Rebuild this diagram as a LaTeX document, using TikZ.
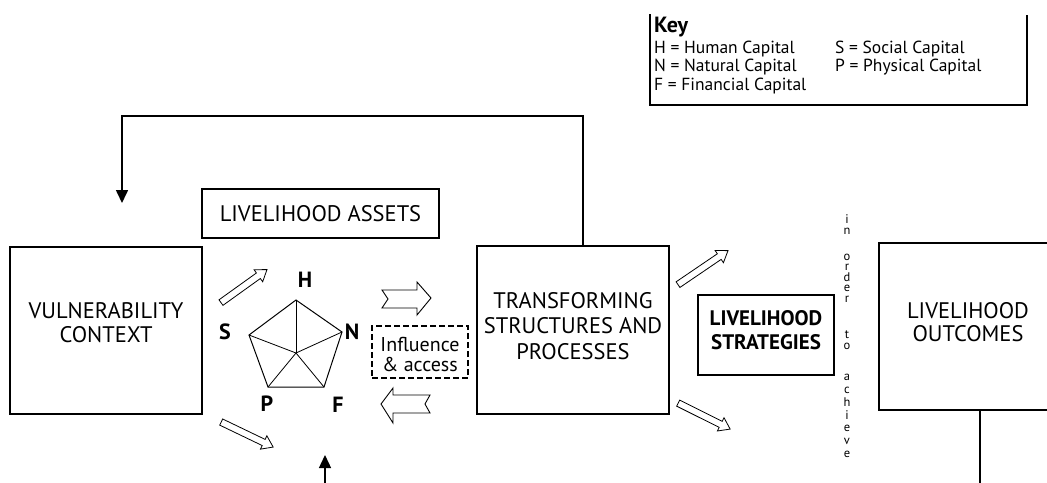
\documentclass[tikz,border=0pt]{standalone}
\usepackage{fontspec}
\setmainfont{PT Sans}
\usetikzlibrary{arrows.meta,shapes.arrows,calc}
\newcommand\hollowarrow[2]{\path let \p1=($(#2)-(#1)$), \n1={atan2(\y1,\x1)}, \n2={veclen(\x1,\y1)} in node[harrow, rotate=\n1, minimum height=\n2] at ($(#1)!0.5!(#2)$) {};}
\begin{document}
\begin{tikzpicture}[x=1pt,y=-1pt,
  box/.style={draw, line width=1.6pt, inner sep=0pt},
  bigtxt/.style={font=\fontsize{22.5}{24}\selectfont, align=center, inner sep=0pt},
  lbl/.style={font=\bfseries\fontsize{22}{22}\selectfont, inner sep=0pt},
  keytxt/.style={anchor=west, font=\fontsize{17.5}{17.5}\selectfont, inner sep=0pt},
  vtxt/.style={align=center, inner sep=0pt},
  harrow/.style={single arrow, draw, line width=0.8pt, inner sep=3pt, minimum width=14pt, single arrow head extend=4pt, single arrow tip angle=70},
  blockarrow/.style={draw, line width=0.9pt},
  tip/.style={-{Triangle[length=13pt,width=12pt]}}]
\useasboundingbox (0,0) rectangle (1047,482);
\clip (0,0) rectangle (1047,482);

% Key
\draw[line width=1.2pt] (650,14) -- (650,105) -- (1027,105) -- (1027,15);
\node[anchor=west, font=\bfseries\fontsize{22}{22}\selectfont, inner sep=0pt] (keyt) at (654,27) {Key};
\node[keytxt] (k1) at (654,49) {H = Human Capital};
\node[keytxt] (k2) at (654,67) {N = Natural Capital};
\node[keytxt] (k3) at (654,86) {F = Financial Capital};
\node[keytxt] (k4) at (835,49) {S = Social Capital};
\node[keytxt] (k5) at (835,67) {P = Physical Capital};

% Boxes
\node[box, minimum width=192pt, minimum height=167pt] (vc) at (106,330.5) {};
\node[bigtxt] (vct) at (106,323) {VULNERABILITY\\CONTEXT};
\node[box, minimum width=237pt, minimum height=49pt] (la) at (320.5,213.5) {};
\node[bigtxt] (lat) at (320.5,214) {LIVELIHOOD\ ASSETS};
\node[box, minimum width=192pt, minimum height=168pt] (ts) at (573,330) {};
\node[bigtxt, font=\fontsize{22.5}{25.5}\selectfont] (tst) at (573,326) {TRANSFORMING\\STRUCTURES\ AND\\PROCESSES};
\node[box, minimum width=136pt, minimum height=80pt] (ls) at (766,335) {};
\node[bigtxt, font=\bfseries\fontsize{21}{24}\selectfont] (lst) at (766,330) {LIVELIHOOD\\STRATEGIES};
\node[box, minimum width=178pt, minimum height=167pt] (lo) at (968,326.5) {};
\node[bigtxt, font=\fontsize{22.5}{22.5}\selectfont] (lot) at (968,322) {LIVELIHOOD\\OUTCOMES};

% Influence & access
\node[draw, dash pattern=on 6pt off 3pt, line width=1.2pt, minimum width=96pt, minimum height=52pt, inner sep=0pt] (ia) at (420,352) {};
\node[font=\fontsize{20}{20}\selectfont, align=center, inner sep=0pt] (iat) at (420,354) {Influence\\\& access};

% Feedback loop
\coordinate (fb1) at (583,116);
\coordinate (fb2) at (122,116);
\coordinate (fb3) at (122,203);
\draw[line width=1.6pt, tip] (ts.north -| fb1) -- (fb1) -- (fb2) -- (fb3);

% Bottom arrow
\coordinate (ba1) at (325,490);
\coordinate (ba2) at (325,455);
\draw[line width=1.4pt, tip] (ba1) -- (ba2);

% Outcomes line
\coordinate (ol) at (980,490);
\draw[line width=1.6pt] (lo.south -| ol) -- (ol);

% Pentagon
\coordinate (pH) at (296,300);
\coordinate (pN) at (342,332);
\coordinate (pF) at (324,387);
\coordinate (pP) at (268,387);
\coordinate (pS) at (249,335);
\coordinate (pC) at (296,353);
\draw[line width=1pt] (pH) -- (pN) -- (pF) -- (pP) -- (pS) -- cycle;
\foreach \v in {pH,pN,pF,pP,pS} \draw[line width=0.8pt] (pC) -- (\v);
\node[lbl] (lH) at (305,280) {H};
\node[lbl] (lS) at (225,332) {S};
\node[lbl] (lN) at (352,332) {N};
\node[lbl] (lP) at (267,404) {P};
\node[lbl] (lF) at (338,405) {F};

% Hollow diagonal arrows
\coordinate (d1a) at (219,304); \coordinate (d1b) at (265,271);
\coordinate (d2a) at (219,421); \coordinate (d2b) at (271,446);
\coordinate (d3a) at (676,286); \coordinate (d3b) at (726,252);
\coordinate (d4a) at (676,402); \coordinate (d4b) at (728,428);
\hollowarrow{d1a}{d1b}
\hollowarrow{d2a}{d2b}
\hollowarrow{d3a}{d3b}
\hollowarrow{d4a}{d4b}

% Notched block arrows
\draw[blockarrow] (382,290) -- (417,290) -- (417,282) -- (431,298) -- (417,315) -- (417,308) -- (382,308) -- (388,299) -- cycle;
\draw[blockarrow] (381,404) -- (393,388) -- (393,395) -- (430,395) -- (425,404) -- (430,413) -- (393,413) -- (393,423) -- cycle;

% Vertical text "in order to achieve"
\node[vtxt, font=\fontsize{12.5}{11}\selectfont] (vin) at (847,225) {i\\n};
\node[vtxt, font=\fontsize{12.5}{10.5}\selectfont] (vorder) at (847,278) {o\\r\\d\\e\\r};
\node[vtxt, font=\fontsize{12.5}{10.5}\selectfont] (vto) at (847,340) {t\\o};
\node[vtxt, font=\fontsize{12.5}{12.8}\selectfont] (vach) at (847,416) {a\\c\\h\\i\\e\\v\\e};
\end{tikzpicture}
\end{document}
